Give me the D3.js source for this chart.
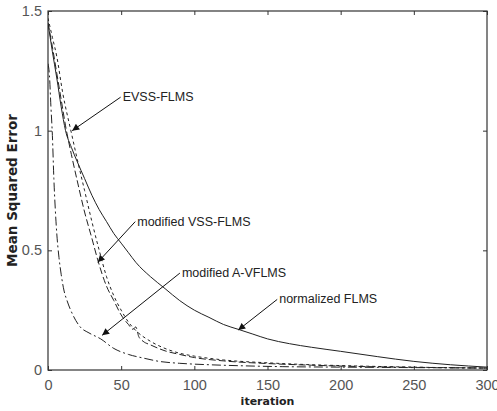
<!DOCTYPE html>
<html>
<head>
<meta charset="utf-8">
<script src="https://cdn.jsdelivr.net/npm/d3@7"></script>
<style>
  body { margin: 0; background: #fff; }
  svg { display: block; }
</style>
</head>
<body>
<div id="chart"></div>
<script>
// Curve readings (iteration, mean squared error)
const normX = [0, 3, 6, 9, 12, 16, 20, 25, 30, 35, 40, 45, 50, 55, 60, 70, 80, 90, 100, 110, 120, 130, 140, 150, 165, 180, 200, 225, 250, 275, 300];
const normY = [1.45, 1.33, 1.22, 1.1, 1.0, 0.93, 0.87, 0.8, 0.73, 0.67, 0.62, 0.57, 0.53, 0.49, 0.45, 0.39, 0.34, 0.29, 0.25, 0.22, 0.19, 0.17, 0.15, 0.13, 0.11, 0.095, 0.078, 0.056, 0.036, 0.022, 0.012];

const evssX = [0, 3, 6, 10, 16, 20, 25, 30, 35, 40, 45, 50, 55, 60, 70, 80, 90, 100, 120, 150, 180, 210, 240, 270, 300];
const evssY = [1.47, 1.39, 1.31, 1.16, 0.99, 0.88, 0.75, 0.62, 0.5, 0.39, 0.31, 0.25, 0.2, 0.165, 0.12, 0.09, 0.07, 0.058, 0.042, 0.03, 0.022, 0.017, 0.013, 0.01, 0.008];

const vssX = [0, 3, 6, 9, 12, 16, 20, 25, 30, 34, 40, 45, 50, 55, 58, 60, 62, 65, 70, 80, 90, 100, 120, 150, 180, 210, 240, 270, 300];
const vssY = [1.45, 1.35, 1.24, 1.13, 1.02, 0.9, 0.79, 0.66, 0.55, 0.46, 0.35, 0.29, 0.23, 0.19, 0.17, 0.18, 0.14, 0.12, 0.105, 0.08, 0.065, 0.052, 0.038, 0.027, 0.02, 0.015, 0.012, 0.01, 0.008];

const avX = [0, 1, 2, 3, 4, 5, 6, 7.5, 9, 11, 13, 17, 22, 28, 36, 45, 55, 65, 77, 90, 110, 130, 160, 200, 250, 300];
const avY = [1.28, 1.23, 1.1, 0.98, 0.8, 0.67, 0.57, 0.47, 0.4, 0.33, 0.29, 0.23, 0.18, 0.155, 0.13, 0.09, 0.065, 0.05, 0.035, 0.028, 0.022, 0.018, 0.014, 0.012, 0.01, 0.008];

const xTicks = [0, 50, 100, 150, 200, 250, 300];
const yTicks = [0, 0.5, 1, 1.5];

// annotation: label, label position (data), arrow tip (data)
const labels = ["EVSS-FLMS", "modified VSS-FLMS", "modified A-VFLMS", "normalized FLMS"];
const labelAt = [[51, 1.14], [61, 0.62], [91.5, 0.405], [158, 0.295]];
const arrowTip = [[16.5, 1.0], [34, 0.45], [37, 0.145], [130, 0.167]];

const width = 497, height = 411;
const margin = { top: 11, right: 10, bottom: 41, left: 48 };

const svg = d3.select("#chart").append("svg")
  .attr("width", width)
  .attr("height", height);

const x = d3.scaleLinear().domain([0, 300]).range([margin.left, width - margin.right]);
const y = d3.scaleLinear().domain([0, 1.5]).range([height - margin.bottom, margin.top]);

const ink = "#222";

// plot box
svg.append("rect")
  .attr("x", x(0)).attr("y", y(1.5))
  .attr("width", x(300) - x(0)).attr("height", y(0) - y(1.5))
  .attr("fill", "#fff").attr("stroke", "#333").attr("stroke-width", 1.2);

// axes, ticks pointing inward on all sides
const fmt = d => d3.format("")(d);
const axisStyle = g => {
  g.select(".domain").remove();
  g.selectAll(".tick line").attr("stroke", "#333");
  g.selectAll(".tick text")
    .attr("fill", "#555")
    .attr("font-family", "Liberation Sans, Arial, sans-serif")
    .attr("font-size", 14.5);
};

svg.append("g")
  .attr("transform", `translate(0,${y(0)})`)
  .call(d3.axisBottom(x).tickValues(xTicks).tickSize(-4).tickPadding(10).tickFormat(fmt))
  .call(axisStyle);
svg.append("g")
  .attr("transform", `translate(0,${y(1.5)})`)
  .call(d3.axisTop(x).tickValues(xTicks).tickSize(-4).tickFormat(""))
  .call(axisStyle);
svg.append("g")
  .attr("transform", `translate(${x(0)},0)`)
  .call(d3.axisLeft(y).tickValues(yTicks).tickSize(-4).tickPadding(6).tickFormat(fmt))
  .call(axisStyle);
svg.append("g")
  .attr("transform", `translate(${x(300)},0)`)
  .call(d3.axisRight(y).tickValues(yTicks).tickSize(-4).tickFormat(""))
  .call(axisStyle);

// axis titles
svg.append("text")
  .attr("x", (x(0) + x(300)) / 2).attr("y", 405)
  .attr("text-anchor", "middle")
  .attr("font-family", "DejaVu Sans, sans-serif")
  .attr("font-weight", "bold")
  .attr("font-size", 11)
  .attr("fill", "#222")
  .text("iteration");

svg.append("text")
  .attr("transform", `translate(17,${(y(0) + y(1.5)) / 2}) rotate(-90)`)
  .attr("text-anchor", "middle")
  .attr("font-family", "DejaVu Sans, sans-serif")
  .attr("font-weight", "bold")
  .attr("font-size", 13.5)
  .attr("fill", "#222")
  .text("Mean Squared Error");

// curves
const line = d3.line().x(d => x(d[0])).y(d => y(d[1])).curve(d3.curveMonotoneX);
const series = [
  { xs: normX, ys: normY, dash: null },
  { xs: evssX, ys: evssY, dash: "3,3" },
  { xs: vssX, ys: vssY, dash: "7,3" },
  { xs: avX, ys: avY, dash: "9,3,2,3" },
];

svg.append("clipPath").attr("id", "plot-clip")
  .append("rect")
  .attr("x", x(0)).attr("y", y(1.5))
  .attr("width", x(300) - x(0)).attr("height", y(0) - y(1.5));

svg.append("g")
  .attr("clip-path", "url(#plot-clip)")
  .selectAll("path")
  .data(series)
  .join("path")
  .attr("d", s => line(s.xs.map((v, i) => [v, s.ys[i]])))
  .attr("fill", "none")
  .attr("stroke", ink)
  .attr("stroke-width", 1)
  .attr("stroke-dasharray", s => s.dash);

// annotations with arrows
svg.append("defs").append("marker")
  .attr("id", "head")
  .attr("viewBox", "0 0 10 10")
  .attr("refX", 10).attr("refY", 5)
  .attr("markerWidth", 9).attr("markerHeight", 7)
  .attr("markerUnits", "userSpaceOnUse")
  .attr("orient", "auto")
  .append("path")
  .attr("d", "M0,0 L10,5 L0,10 Z")
  .attr("fill", "#111");

const notes = svg.append("g");
labels.forEach((txt, i) => {
  const [lx, ly] = labelAt[i];
  const [tx, ty] = arrowTip[i];
  notes.append("line")
    .attr("x1", x(lx) - 2).attr("y1", y(ly))
    .attr("x2", x(tx)).attr("y2", y(ty))
    .attr("stroke", "#111")
    .attr("stroke-width", 1)
    .attr("marker-end", "url(#head)");
  notes.append("text")
    .attr("x", x(lx)).attr("y", y(ly) + 4)
    .attr("font-family", "Liberation Sans, Arial, sans-serif")
    .attr("font-size", 12.5)
    .attr("fill", "#222")
    .text(txt);
});
</script>
</body>
</html>
